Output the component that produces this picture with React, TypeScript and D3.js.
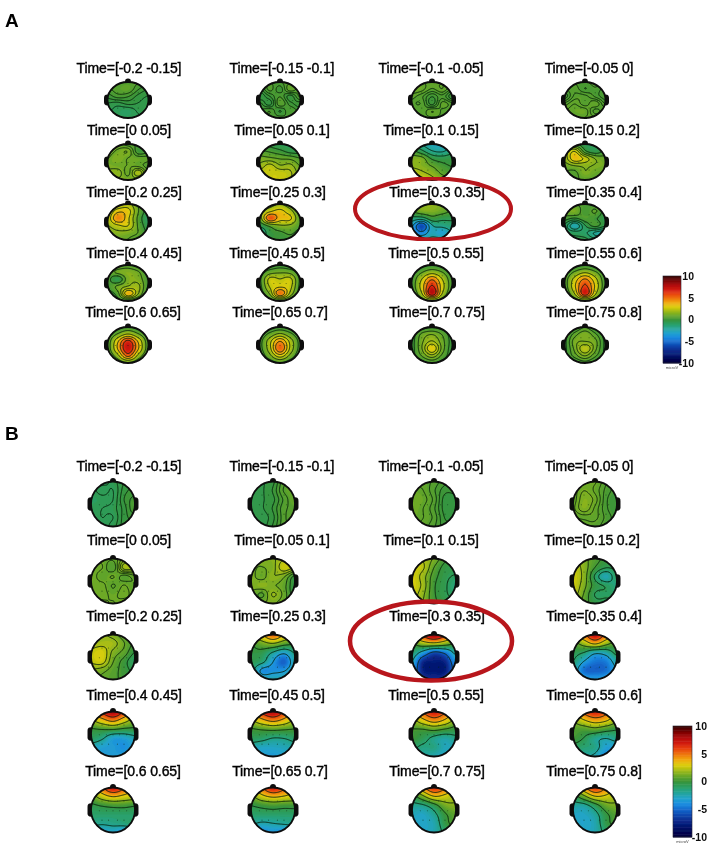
import React from "react";
import * as d3 from "d3";

const W = 716, H = 857;

const colorStops = [-10, -8.5, -7, -6, -5, -4, -3, -2, -1, 0, 1, 2, 3, 4, 5, 6, 7, 8, 9, 10];
const colorValues = ["#000038", "#000a60", "#0a2a8c", "#0e46ae", "#1468cc", "#1c8ce0", "#22a4cc", "#22a49a", "#2aa068", "#37933a", "#66a628", "#a0ba18", "#dccf08", "#f0a810", "#ee7410", "#e84010", "#d01810", "#b00c0c", "#780404", "#340000"];

const titles = [
  "Time=[-0.2 -0.15]", "Time=[-0.15 -0.1]", "Time=[-0.1 -0.05]", "Time=[-0.05 0]",
  "Time=[0 0.05]", "Time=[0.05 0.1]", "Time=[0.1 0.15]", "Time=[0.15 0.2]",
  "Time=[0.2 0.25]", "Time=[0.25 0.3]", "Time=[0.3 0.35]", "Time=[0.35 0.4]",
  "Time=[0.4 0.45]", "Time=[0.45 0.5]", "Time=[0.5 0.55]", "Time=[0.55 0.6]",
  "Time=[0.6 0.65]", "Time=[0.65 0.7]", "Time=[0.7 0.75]", "Time=[0.75 0.8]",
];
const titleCentersX = [
  [129, 282, 431, 589], [129, 282, 431, 592], [134, 278, 437, 594], [134, 277, 436, 594], [133, 280, 437, 594],
];
const titleYA = [68, 130, 192, 253, 312];
const titleYB = [466, 540, 616, 695, 771];
const headXA = [128, 280, 432, 585];
const headYA = [100, 162, 222, 283, 345];
const headXB = [113, 273, 434, 595];
const headYB = [504, 581, 657, 734, 810];

// Scalp potential (microV) read by eye: 6 rows front to back, 5 columns left to right
const gridA: number[][] = [
  [0.6,0.6,0.7,0.6,0.6, 0.5,0.7,0.8,0.3,0.0, 0.1,0.4,0.3,-0.1,-0.3, -0.3,-0.4,-0.2,-0.3,-0.4, -0.5,-0.7,-0.8,-0.5,-0.5, -0.6,-0.7,-0.7,-0.6,-0.5],
  [0.4,0.5,0.5,0.7,0.8, 0.0,0.6,0.2,0.9,0.5, -0.3,0.1,0.5,0.0,0.6, 0.2,-0.2,0.7,0.2,0.0, 0.3,0.5,0.1,0.5,0.2, 0.3,0.4,0.4,0.3,0.3],
  [0.8,0.9,0.9,0.9,0.8, 1.1,1.0,0.7,0.9,0.5, 0.8,0.6,0.2,0.5,0.0, 0.7,0.7,0.1,0.8,0.6, 0.8,0.6,0.9,0.7,0.6, 0.8,0.7,0.7,0.7,0.6],
  [0.4,0.5,0.5,0.6,0.6, 0.5,0.6,0.4,0.5,0.3, 0.3,0.7,0.7,0.5,0.3, 0.7,0.9,0.7,0.9,0.5, 0.9,1.0,1.0,0.6,0.8, 0.9,0.9,0.9,0.8,0.8],
  [0.8,0.9,0.6,0.4,0.2, 0.9,1.2,1.4,0.2,0.4, 1.1,1.4,1.1,1.0,0.9, 1.3,1.2,1.1,1.0,0.6, 1.5,1.7,1.0,2.1,0.8, 1.0,1.3,1.3,1.2,0.9],
  [0.0,-0.3,-0.6,-0.6,-0.3, 0.6,0.4,0.1,-0.3,-0.3, 1.3,1.2,1.0,0.9,0.5, 1.8,2.4,1.7,1.8,1.0, 2.4,2.7,2.6,2.3,1.3, 2.4,2.7,2.7,2.2,1.5],
  [-1,-1.8,-2.6,-2.6,-1.5, 0.4,-0.6,-1.7,-1.9,-1.2, 1.4,1.3,-0.1,-0.4,-0.2, 1.7,1.5,0.9,0.3,0.0, 2.5,2.1,1.6,0.8,0.4, 2.8,2.8,2.2,1.5,1],
  [0.4,0.3,-0.5,-0.6,-0.3, 1.6,2.8,0.3,-0.4,0.3, 1.7,3.5,2.6,1.4,1.0, 1.1,1.5,1.6,1.4,1.2, 0.7,0.6,1.4,1.0,0.8, 0.5,0.7,0.8,0.7,0.5],
  [0.8,1.6,2.2,0.9,0.0, 1.6,3.4,3.2,1.0,-0.4, 2.1,4.6,3.0,0.7,-0.9, 1.8,2.6,2.8,0.8,-0.5, 1.3,1.6,1.4,0.9,-0.2, 0.5,0.9,0.9,0.4,0],
  [0,1.0,1.8,0.9,0, 1.2,2.8,3.4,2.2,0.2, 1.0,5.6,3.6,3.3,0.5, -0.6,0.8,1.6,1.5,0.6, -2.2,-0.2,0.2,0.6,0.0, -0.7,0,0.1,0.1,0],
  [1.0,1.6,1.8,1.2,0.6, 0.6,1.3,1.4,1.0,0.4, -1.2,-1.4,0.0,-0.4,-0.5, -3.0,-5.8,-2.2,-1.6,-1.2, -3.2,-4.2,-2.6,-3.2,-1.8, -1.5,-1.9,-1.6,-1.4,-0.7],
  [0,0.6,0.5,0.2,-0.1, 1.0,1.3,0.3,0.8,-0.3, 0.4,0.0,0.5,0.2,-0.4, -0.7,-2.4,-0.6,0.3,-0.5, -0.6,-0.8,-1.0,-1.9,-2.2, -0.4,-0.4,-0.3,-1,-1],
  [0.0,0.3,0.6,0.2,-0.2, 0.5,1.2,1.5,1.1,0.1, 0.6,-0.4,1.4,1.4,0.3, 0.3,1.2,1.8,1.9,0.2, 0.0,0.7,3.8,1.7,0.0, -0.2,0.0,0.3,0.0,-0.2],
  [-0.4,-0.2,0.1,-0.2,-0.4, 0.0,1.0,1.3,1.1,0.0, 0.3,2.6,2.4,2.6,0.3, 0.2,2.4,3.1,2.6,0.2, 0.0,1.5,5.0,2.0,0.0, -0.4,0.1,0.5,0.1,-0.4],
  [-0.4,-0.2,0.1,-0.2,-0.4, -0.1,0.9,1.8,1.0,-0.1, 0.2,2.4,5.0,2.4,0.2, 0.2,3.0,6.8,3.0,0.2, 0.0,2.2,7.6,2.3,0.0, -0.4,0.1,0.8,0.1,-0.4],
  [-0.3,-0.2,0.1,-0.2,-0.3, 0.0,1.1,2.0,1.1,0.0, 0.4,2.7,4.8,2.6,0.2, 0.3,3.2,6.2,3.2,0.2, 0.0,2.2,6.8,2.4,0.0, -0.3,0.1,0.7,0.1,-0.3],
  [-0.2,0.0,0.3,0.0,-0.2, 0.1,1.2,2.4,1.2,0.1, 0.4,3.4,6.6,3.4,0.4, 0.4,3.7,7.3,3.7,0.4, 0.1,1.9,5.2,1.9,0.1, -0.2,0.2,0.9,0.2,-0.2],
  [-0.3,-0.1,0.1,-0.1,-0.3, 0.0,0.9,1.8,0.9,0.0, 0.3,2.2,4.4,2.2,0.3, 0.3,2.2,5.3,2.3,0.3, 0.0,1.3,3.0,1.3,0.0, -0.3,0.1,0.6,0.1,-0.3],
  [-0.3,0.0,0.2,0.0,-0.3, -0.1,1.0,1.4,0.8,-0.1, 0.0,1.3,2.1,1.1,0.0, 0.0,1.4,3.2,1.2,-0.1, 0.0,0.9,1.8,0.7,-0.1, -0.3,0.0,0.4,0.0,-0.3],
  [-0.3,0.0,0.6,0.0,-0.3, -0.1,0.8,1.4,0.7,-0.1, 0.0,1.3,1.5,1.2,0.0, 0.0,1.2,2.4,1.2,0.0, 0.0,0.8,1.5,0.7,0.0, -0.3,0.0,0.4,0.0,-0.3],
];

const gridB: number[][] = [
  [-0.7,-0.7,-0.5,-0.2,0, -0.7,-0.5,-0.6,-0.1,0.1, -0.8,-0.7,-0.6,0.0,0.3, -0.7,-0.6,-0.5,-0.1,0.4, -0.7,-0.6,-0.6,-0.1,0.1, -0.7,-0.7,-0.5,-0.1,0],
  [-0.4,-0.3,-0.1,0.6,0.6, -0.4,-0.3,0.0,0.7,0.8, -0.5,-0.3,-0.1,0.5,0.9, -0.4,-0.3,0.0,0.6,0.7, -0.4,-0.4,-0.1,0.6,0.8, -0.4,-0.4,0.0,0.6,0.6],
  [0.8,0.8,0.6,0.3,0.2, 1.0,0.9,0.5,0.1,0.1, 1.1,1.0,0.6,-0.1,-0.1, 1.1,0.9,0.5,-0.1,-0.2, 1.0,0.9,0.6,0,0, 0.9,0.8,0.5,0.1,0.1],
  [0.9,1.0,1.1,0.6,0.2, 0.9,1.3,1.0,0.5,0.2, 0.9,1.5,1.2,0.4,0.1, 1.0,1.5,1.0,0.4,0.1, 0.8,0.9,0.9,0.5,0.2, 0.6,0.7,0.7,0.4,0.2],
  [1.0,1.0,0.9,1.4,1.8, 1.2,1.1,0.6,2.0,1.9, 1.3,0.9,1.1,0.7,1.0, 1.2,1.2,0.8,1.1,0.8, 1.1,1.2,1.0,1.2,0.9, 0.9,1.0,1.1,0.9,0.8],
  [1.2,1.4,1.6,2.2,2.4, 1.3,1.2,1.5,2.7,2.2, 1.4,1.0,1.7,1.3,0.0, 1.3,1.6,1.3,0.9,-0.3, 1.2,0.6,1.8,1.0,-0.2, 1.0,1.2,1.3,0.8,0.2],
  [2.4,2.2,1.4,0.2,-0.1, 2.6,2.4,0.8,-0.2,-0.3, 2.9,1.9,0.4,-0.4,-0.8, 3.0,2.0,0.2,-0.5,-1.4, 2.7,1.7,0.2,-0.5,-1.0, 2.2,1.5,0.3,-0.2,-0.5],
  [2.2,1.4,0.6,0.0,0.0, 2.6,1.6,0.2,-0.6,-0.4, 2.8,1.6,-0.8,-2.4,-0.7, 2.8,1.4,-0.2,-0.8,-1.4, 2.4,1.0,-0.7,-0.8,-0.9, 1.6,0.7,-0.3,-0.4,-0.3],
  [1.6,1.8,1.4,0.6,0.2, 1.9,2.1,2.0,1.1,0.2, 2.6,2.9,1.5,0.8,-0.3, 2.5,2.7,1.1,0.1,-0.9, 1.6,1.3,0.7,0.1,-0.5, 1.1,0.9,0.6,0.2,0],
  [2,3.5,5.4,3.5,2, 0.2,1.2,1.8,0.8,0.2, -0.2,-0.4,-1.8,-3.0,-1.5, -0.5,-1.2,-3.4,-5.2,-2.2, -1.0,-3.8,-3.8,-3.6,-2.2, -1.5,-2.4,-2.4,-2.2,-1.5],
  [4,6.5,8.8,6.5,3.5, 0.4,2.0,2.6,1.6,0.2, -1.0,-3.2,-5.6,-4.6,-1.8, -2.4,-7.0,-7.6,-7.2,-3.6, -3.4,-7.4,-7.8,-7.6,-4.2, -3,-6.4,-7.0,-6.4,-3],
  [3,5,7.6,5,2.5, 0.6,2.0,3.6,1.8,0.4, -0.4,-1.0,-2.6,-2.2,-0.4, -1.0,-3.2,-4.6,-4.4,-2.2, -2,-4.8,-5.2,-4.8,-3, -1.5,-3,-3.4,-3,-2],
  [4,6.5,8.2,6,3.5, 2.0,3.4,4.6,3.0,1.4, 0.0,0.2,0.2,-0.2,-0.2, -0.8,-1.6,-3.2,-3.2,-2.4, -2.6,-3.2,-3.4,-3.8,-3, -2.5,-3.2,-3.4,-3.2,-2.5],
  [4,6.5,8,6,3.5, 2.2,3.6,4.6,3.6,2.0, 0.2,0.5,0.7,0.5,0.3, -0.7,-1.0,-1.6,-1.5,-1.0, -2.4,-2.8,-2.8,-2.6,-2.2, -2.8,-3.2,-3.4,-3,-2.6],
  [3.5,5.5,7,5.5,3, 1.6,3.2,4.4,3.4,1.6, 0.4,0.4,0.8,0.3,-0.2, 0.1,-0.6,-1.6,-2.2,-1.6, -0.9,-1.5,-1.5,-2.6,-2.4, -1.0,-2,-2.4,-2.8,-2],
  [3.5,5.5,6.8,5.5,3, 1.6,3,4,3.4,1.8, 0.6,0.5,0.8,0.2,-0.3, 0.2,-0.5,-1.7,-2.2,-1.6, -0.8,-1.2,-1.6,-3.2,-3.2, -1,-2,-2.5,-4,-2.4],
  [3,5,7.2,5.5,3, 1.0,2.6,3.6,3.0,2.4, -0.4,0.0,0.3,0.3,0.0, -1,-1,-1,-1,-1, -1.6,-1.8,-1.6,-1.4,-1.0, -3,-3.2,-3,-3.8,-3.2],
  [3,5,7.0,5.5,3, 1.2,2.8,3.6,3.2,2.6, -0.3,0.1,0.4,0.2,0.2, -1,-1,-1,-1,-1, -2.0,-2.4,-2.2,-2.0,-1.8, -3.4,-4,-3.6,-4,-3.4],
  [2,4.4,6.4,5,2.5, -0.4,1.4,3.2,2.8,2.0, -1.8,-1.6,-0.4,1.2,1.6, -2.6,-2.8,-1.8,0.0,0.8, -2.8,-2.8,-2.4,-0.3,0.6, -2.6,-2.8,-2.4,-1.0,0],
  [2,4.2,6.2,4.6,2.5, -0.6,1.2,3.0,2.8,2.0, -2,-2,-0.6,1.0,1.4, -2.8,-2.8,-2.0,-0.2,0.6, -2.8,-3,-2.4,-0.4,0.4, -2.6,-2.8,-2.4,-1.0,-0.2],
];

const colorbarTicks = [10, 5, 0, -5, -10];
const electrodesX = [-0.62, -0.3, 0, 0.3, 0.62, -0.5, -0.2, 0.2, 0.5, -0.5, -0.2, 0.2, 0.5];
const electrodesY = [0.03, 0.03, 0.03, 0.03, 0.03, -0.4, -0.4, -0.4, -0.4, 0.45, 0.45, 0.45, 0.45];

const color = d3.scaleLinear<string>().domain(colorStops).range(colorValues).interpolate(d3.interpolateRgb).clamp(true);

const ROWS = 6, COLS = 5, NX = 64, NY = 64, EXT = 1.15;

function cubic(a: number, b: number, c: number, d: number, t: number) {
  return b + 0.5 * t * (c - a + t * (2 * a - 5 * b + 4 * c - d + t * (3 * (b - c) + d - a)));
}
function upsample(flat: number[]) {
  const at = (r: number, c: number) => flat[Math.max(0, Math.min(ROWS - 1, r)) * COLS + Math.max(0, Math.min(COLS - 1, c))];
  const out = new Array(NX * NY);
  for (let j = 0; j < NY; j++) {
    const y = -EXT + (2 * EXT * j) / (NY - 1);
    const fr = Math.max(0, Math.min(ROWS - 1.001, ((y + 1) / 2) * (ROWS - 1)));
    const r = Math.floor(fr), tr = fr - r;
    for (let i = 0; i < NX; i++) {
      const x = -EXT + (2 * EXT * i) / (NX - 1);
      const fc = Math.max(0, Math.min(COLS - 1.001, ((x + 1) / 2) * (COLS - 1)));
      const c = Math.floor(fc), tc = fc - c;
      const col = [-1, 0, 1, 2].map((dr) => cubic(at(r + dr, c - 1), at(r + dr, c), at(r + dr, c + 1), at(r + dr, c + 2), tc));
      out[j * NX + i] = cubic(col[0], col[1], col[2], col[3], tr);
    }
  }
  return out;
}

const fillLevels = d3.range(-10, 10.01, 0.25);

function Head({ cx, cy, rx, ry, grid, clip }: any) {
  const values = upsample(grid);
  const [lo, hi] = d3.extent(values) as [number, number];
  const lineLevels = d3.range(1, 6).map((k) => lo + ((hi - lo) * k) / 6);
  const maker = d3.contours().size([NX, NY]);
  const sx = d3.scaleLinear().domain([0, NX - 1]).range([-EXT * rx, EXT * rx]);
  const sy = d3.scaleLinear().domain([0, NY - 1]).range([-EXT * ry, EXT * ry]);
  const path = d3.geoPath(
    d3.geoTransform({
      point(x: number, y: number) {
        (this as any).stream.point(sx(x - 0.5), sy(y - 0.5));
      },
    })
  );
  const fills = maker.thresholds(fillLevels.filter((l) => l > lo - 0.25 && l < hi))(values);
  const lines = maker.thresholds(lineLevels)(values);
  return (
    <g transform={`translate(${cx},${cy})`}>
      <ellipse cx={0} cy={-ry - 0.5} rx={3} ry={3} fill="#111" />
      <rect x={-rx - 3.5} y={-ry * 0.3} width={7} height={ry * 0.6} rx={3.4} fill="#111" />
      <rect x={rx - 3.5} y={-ry * 0.3} width={7} height={ry * 0.6} rx={3.4} fill="#111" />
      <ellipse rx={rx} ry={ry} fill={color(lo)} />
      <g clipPath={`url(#${clip})`}>
        {fills.map((g: any, i: number) => (
          <path key={i} d={path(g) ?? ""} fill={color(g.value + 0.125)} />
        ))}
        {lines.map((g: any, i: number) => (
          <path key={i} d={path(g) ?? ""} fill="none" stroke="#08220c" strokeWidth={0.9} />
        ))}
        {electrodesX.map((x, i) => (
          <circle key={i} cx={x * rx} cy={electrodesY[i] * ry} r={0.55} fill="#0c2a10" opacity={0.6} />
        ))}
      </g>
      <ellipse rx={rx} ry={ry} fill="none" stroke="#0a0a0a" strokeWidth={1.8} />
    </g>
  );
}

function Colorbar({ x, y, w, h, labelX }: any) {
  const scale = d3.scaleLinear().domain([-10, 10]).range([y + h, y]);
  const bands = d3.range(-10, 10, 0.25);
  return (
    <g>
      {bands.map((b) => (
        <rect key={b} x={x} y={scale(b + 0.25)} width={w} height={scale(b) - scale(b + 0.25) + 0.5} fill={color(b + 0.125)} />
      ))}
      <rect x={x} y={y} width={w} height={h} fill="none" stroke="#223" strokeWidth={0.6} />
      {colorbarTicks.map((t) => (
        <text key={t} x={labelX} y={scale(t) + 3.8} textAnchor="end" fontSize={10.5} fontWeight={700} fill="#111" fontFamily="Liberation Sans">
          {t}
        </text>
      ))}
      <text x={x + w / 2} y={y + h + 6} textAnchor="middle" fontSize={4} fill="#444" fontFamily="Liberation Sans">
        microV
      </text>
    </g>
  );
}

function Panel({ grids, headX, headY, titleY, rx, ry, clip }: any) {
  return (
    <g>
      <clipPath id={clip}>
        <ellipse rx={rx} ry={ry} />
      </clipPath>
      {grids.map((g: number[], i: number) => {
        const r = Math.floor(i / 4), c = i % 4;
        return (
          <g key={i}>
            <text x={titleCentersX[r][c]} y={titleY[r] + 5} textAnchor="middle" fontSize={14} letterSpacing={-0.1} fill="#000" stroke="#000" strokeWidth={0.4} fontFamily="Liberation Sans">
              {titles[i]}
            </text>
            <Head cx={headX[c]} cy={headY[r]} rx={rx} ry={ry} grid={g} clip={clip} />
          </g>
        );
      })}
    </g>
  );
}

export default function App() {
  return (
    <svg width={W} height={H} viewBox={`0 0 ${W} ${H}`} style={{ position: "absolute", left: 0, top: 0, background: "#fff" }}>
      <defs>
        <filter id="soft" x="-2%" y="-2%" width="104%" height="104%">
          <feGaussianBlur stdDeviation={0.55} />
        </filter>
      </defs>
      <g filter="url(#soft)">
        <Panel grids={gridA} headX={headXA} headY={headYA} titleY={titleYA} rx={20.5} ry={18} clip="clipA" />
        <Panel grids={gridB} headX={headXB} headY={headYB} titleY={titleYB} rx={22} ry={22.5} clip="clipB" />
        <Colorbar x={663} y={276} w={18} h={87} labelX={694} />
        <Colorbar x={673} y={726} w={19} h={111} labelX={707} />
        <text x={5} y={27} fontSize={19} fontWeight={700} fontFamily="Liberation Sans" fill="#000">A</text>
        <text x={5} y={440} fontSize={19} fontWeight={700} fontFamily="Liberation Sans" fill="#000">B</text>
      </g>
      <ellipse cx={433} cy={209} rx={78} ry={30.5} fill="none" stroke="#b8141a" strokeWidth={4} filter="url(#soft)" />
      <ellipse cx={431} cy={641} rx={81} ry={39.5} fill="none" stroke="#b8141a" strokeWidth={4.5} filter="url(#soft)" />
    </svg>
  );
}
